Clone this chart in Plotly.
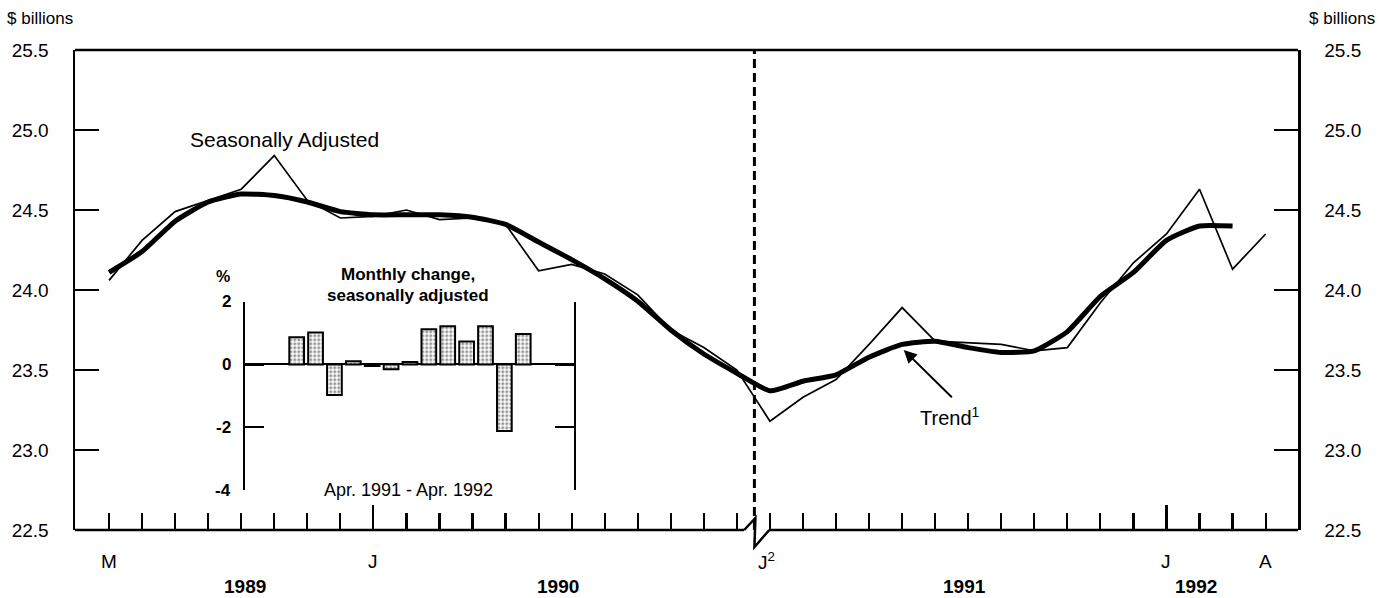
import plotly.graph_objects as go

# ---- data -------------------------------------------------------------
# month index 0 = May 1989 ... 35 = Apr 1992
months = list(range(36))
seasonally_adjusted = [24.06, 24.31, 24.49, 24.56, 24.63, 24.84, 24.56, 24.45, 24.46, 24.50,
                       24.44, 24.45, 24.41, 24.12, 24.16, 24.10, 23.97, 23.75, 23.64, 23.50,
                       23.18, 23.33, 23.44, 23.66, 23.89, 23.68, 23.67, 23.66, 23.62, 23.64,
                       23.92, 24.17, 24.35, 24.63, 24.13, 24.35]
trend_months = list(range(35))
trend = [24.11, 24.24, 24.43, 24.55, 24.60, 24.59, 24.55, 24.49, 24.47, 24.47,
         24.47, 24.455, 24.41, 24.30, 24.19, 24.07, 23.93, 23.75, 23.60, 23.48,
         23.37, 23.43, 23.47, 23.58, 23.66, 23.68, 23.64, 23.61, 23.62, 23.74,
         23.96, 24.11, 24.31, 24.40, 24.40]

inset_months = ["Apr 91", "May 91", "Jun 91", "Jul 91", "Aug 91", "Sep 91", "Oct 91",
                "Nov 91", "Dec 91", "Jan 92", "Feb 92", "Mar 92", "Apr 92"]
inset_change = [0.87, 1.02, -0.97, 0.10, -0.05, -0.15, 0.08, 1.12, 1.22, 0.73, 1.22, -2.12, 0.97]

y_ticks = [22.5, 23.0, 23.5, 24.0, 24.5, 25.0, 25.5]
inset_ticks = [2, 0, -2, -4]
inset_tick_text = ["2", "0", "-2", "-4"]
month_label_pos = [0, 8, 19.9, 32, 35]
month_label_text = ["M", "J", "J<sup>2</sup>", "J", "A"]
tall_tick_pos = [8, 32]
year_label_pos = [4.1, 13.6, 25.9, 32.9]
year_label_text = ["1989", "1990", "1991", "1992"]
break_pos = 19.53

# ---- styling ----------------------------------------------------------
FONT = "Liberation Sans, Arial, Helvetica, sans-serif"
X_RANGE = [-1.03, 35.98]
Y_RANGE = [22.5, 25.5]
INSET_X_RANGE = [-2.75, 14.7]
W, H = 1384, 598
ML, MR, MT, MB = 73, 86, 50, 68
PLOT_H = H - MT - MB

fig = go.Figure()
fig.add_trace(go.Scatter(x=months, y=seasonally_adjusted, mode="lines",
                         line=dict(color="black", width=1.7), hoverinfo="skip"))
fig.add_trace(go.Scatter(x=trend_months, y=trend, mode="lines",
                         line=dict(color="black", width=5, shape="spline", smoothing=0.5),
                         hoverinfo="skip"))
# invisible trace to materialise the overlay axes (right y axis, tall ticks)
fig.add_trace(go.Scatter(x=months, y=seasonally_adjusted, xaxis="x2", yaxis="y2",
                         mode="lines", line=dict(width=0, color="rgba(0,0,0,0)"),
                         hoverinfo="skip"))
# inset bars
fig.add_trace(go.Bar(x=list(range(len(inset_months))), y=inset_change, xaxis="x3", yaxis="y3",
                     width=0.78,
                     marker=dict(color="white", line=dict(color="black", width=2),
                                 pattern=dict(shape=".", fgcolor="#222", bgcolor="white",
                                              size=4, solidity=0.45)),
                     hoverinfo="skip"))

axis_common = dict(showgrid=False, zeroline=False)
fig.update_layout(
    width=W, height=H, showlegend=False, hovermode=False,
    margin=dict(l=ML, r=MR, t=MT, b=MB),
    paper_bgcolor="white", plot_bgcolor="white",
    font=dict(family=FONT, color="black", size=19),
    xaxis=dict(range=X_RANGE, tickvals=months, ticks="inside", ticklen=17, tickwidth=2.2,
               tickcolor="black", showticklabels=False, showline=False, **axis_common),
    xaxis2=dict(range=X_RANGE, overlaying="x", anchor="y", tickvals=tall_tick_pos,
                ticks="inside", ticklen=25, tickwidth=2.2, tickcolor="black",
                showticklabels=False, showline=False, **axis_common),
    yaxis=dict(range=Y_RANGE, tickvals=y_ticks, tickformat=".1f", ticks="inside",
               ticklen=24, tickwidth=2.5, tickcolor="black", showline=True, linewidth=2.5,
               linecolor="black", ticklabelstandoff=20, tickfont=dict(size=19), **axis_common),
    yaxis2=dict(range=Y_RANGE, overlaying="y", side="right", anchor="x", tickvals=y_ticks,
                tickformat=".1f", ticks="inside", ticklen=24, tickwidth=2.5, tickcolor="black",
                showline=True, linewidth=2.5, linecolor="black", ticklabelstandoff=20,
                tickfont=dict(size=19), **axis_common),
    xaxis3=dict(domain=[0.1388, 0.4082], anchor="y3", range=INSET_X_RANGE,
                showticklabels=False, ticks="", showline=False, showgrid=False, zeroline=False),
    yaxis3=dict(domain=[0.0833, 0.4756], anchor="x3", range=[-4, 2], tickvals=inset_ticks,
                ticks="inside", ticklen=19, tickwidth=2.2, showticklabels=False,
                tickcolor="black", showline=True, linewidth=2.2, linecolor="black",
                mirror="ticks", showgrid=False, zeroline=True, zerolinecolor="black",
                zerolinewidth=2),
    bargap=0,
)

px_y = 1.0 / PLOT_H
shapes = [
    # top frame
    dict(type="line", xref="paper", yref="paper", x0=0, x1=1, y0=1, y1=1,
         line=dict(color="black", width=2.5)),
    # bottom axis, broken at the series break
    dict(type="line", xref="x", yref="paper", x0=X_RANGE[0], x1=break_pos - 0.31, y0=0, y1=0,
         line=dict(color="black", width=2.5)),
    dict(type="path", xref="x", yref="paper",
         path=f"M {break_pos-0.31},0 L {break_pos+0.03},{12*px_y} L {break_pos},{-17*px_y} "
              f"L {break_pos+0.45},0",
         line=dict(color="black", width=2.5)),
    dict(type="line", xref="x", yref="paper", x0=break_pos + 0.45, x1=X_RANGE[1], y0=0, y1=0,
         line=dict(color="black", width=2.5)),
    # dashed break line
    dict(type="line", xref="x", yref="paper", x0=break_pos, x1=break_pos, y0=0, y1=1,
         line=dict(color="black", width=3, dash="9px,5px")),
]
fig.update_layout(shapes=shapes)

ann = []
ann.append(dict(xref="paper", yref="paper", x=0, y=1, xshift=-70, yshift=32,
                xanchor="left", yanchor="middle", text="$ billions", showarrow=False,
                font=dict(size=17)))
ann.append(dict(xref="paper", yref="paper", x=1, y=1, xshift=79, yshift=32,
                xanchor="right", yanchor="middle", text="$ billions", showarrow=False,
                font=dict(size=17)))
for p, t in zip(month_label_pos, month_label_text):
    ann.append(dict(xref="x", yref="paper", x=p, y=0, yshift=-31, xanchor="center",
                    yanchor="middle", text=t, showarrow=False, font=dict(size=19)))
for p, t in zip(year_label_pos, year_label_text):
    ann.append(dict(xref="x", yref="paper", x=p, y=0, yshift=-56, xanchor="center",
                    yanchor="middle", text=f"<b>{t}</b>", showarrow=False, font=dict(size=19)))
ann.append(dict(xref="x", yref="y", x=5.30, y=24.94, text="Seasonally Adjusted",
                showarrow=False, xanchor="center", yanchor="middle", font=dict(size=21)))
ann.append(dict(xref="x", yref="y", x=25.44, y=23.21, text="Trend<sup>1</sup>",
                showarrow=False, xanchor="center", yanchor="middle", font=dict(size=20)))
ann.append(dict(xref="x", yref="y", x=24.05, y=23.625, axref="x", ayref="y",
                ax=25.55, ay=23.32, text="", showarrow=True, arrowhead=2, arrowsize=1.3,
                arrowwidth=2, arrowcolor="black"))
# inset texts
for v, t in zip(inset_ticks, inset_tick_text):
    ann.append(dict(xref="x3", yref="y3", x=INSET_X_RANGE[0], y=v, xshift=-12,
                    xanchor="right", yanchor="middle", text=f"<b>{t}</b>", showarrow=False,
                    font=dict(size=17)))
ann.append(dict(xref="x3", yref="y3", x=5.9, y=2, yshift=27, text="<b>Monthly change,</b>",
                showarrow=False, xanchor="center", yanchor="middle", font=dict(size=17)))
ann.append(dict(xref="x3", yref="y3", x=5.9, y=2, yshift=6, text="<b>seasonally adjusted</b>",
                showarrow=False, xanchor="center", yanchor="middle", font=dict(size=17)))
ann.append(dict(xref="x3", yref="y3", x=INSET_X_RANGE[0], y=2, xshift=-22, yshift=25,
                text="<b>%</b>", showarrow=False, xanchor="center", yanchor="middle",
                font=dict(size=16)))
ann.append(dict(xref="x3", yref="y3", x=5.9, y=-4, text="Apr. 1991 - Apr. 1992",
                showarrow=False, xanchor="center", yanchor="middle", font=dict(size=18)))
fig.update_layout(annotations=ann)

fig.write_html("out.html", config={"displayModeBar": False, "staticPlot": True},
               post_script="document.body.style.margin='0';document.body.style.overflow='hidden';")
